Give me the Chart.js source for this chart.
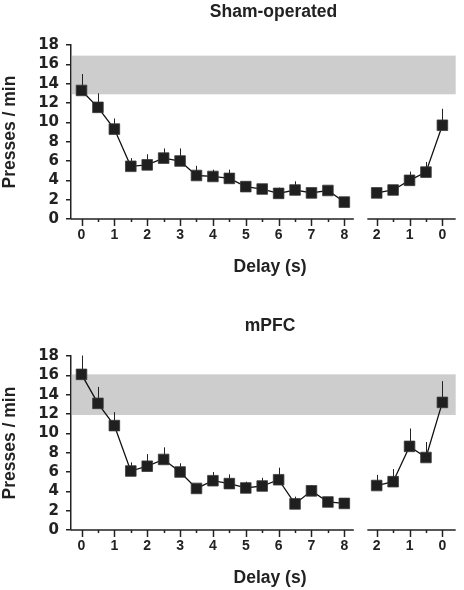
<!DOCTYPE html>
<html>
<head>
<meta charset="utf-8">
<script src="https://cdn.jsdelivr.net/npm/chart.js@4/dist/chart.umd.min.js"></script>
<style>
  html, body { margin: 0; padding: 0; background: #fff; }
  body { width: 464px; height: 590px; position: relative; overflow: hidden; }
  canvas { position: absolute; left: 0; }
  #sham { top: 0; }
  #mpfc { top: 311px; }
</style>
</head>
<body>
<canvas id="sham" width="464" height="279"></canvas>
<canvas id="mpfc" width="464" height="279"></canvas>
<script>
// delays in the training phase (s), then the recovery phase (read right to left)
const delays = [0, 0.5, 1, 1.5, 2, 2.5, 3, 3.5, 4, 4.5, 5, 5.5, 6, 6.5, 7, 7.5, 8];
const recoveryDelays = [2, 1.5, 1, 0.5, 0];

const shamMeans = [13.3, 11.55, 9.3, 5.45, 5.6, 6.3, 6.0, 4.5, 4.4, 4.2, 3.35, 3.1, 2.65, 3.0, 2.7, 2.95, 1.75];
const shamErr = [1.7, 1.45, 1.1, 0.85, 1.1, 1.0, 1.3, 1.0, 0.7, 0.9, 0.4, 0.4, 0.6, 0.9, 0.4, 0.4, 0.3];
const shamRecMeans = [2.7, 3.0, 4.0, 4.85, 9.7];
const shamRecErr = [0.3, 0.4, 0.9, 1.05, 1.7];
const shamBand = [12.9, 16.9];

const mpfcMeans = [16.1, 13.1, 10.8, 6.1, 6.6, 7.3, 6.0, 4.3, 5.1, 4.8, 4.35, 4.55, 5.2, 2.7, 4.05, 2.9, 2.75];
const mpfcErr = [1.95, 1.7, 1.4, 0.9, 1.25, 1.25, 0.9, 0.4, 0.9, 0.95, 0.65, 0.85, 1.25, 0.75, 0.6, 0.3, 0.3];
const mpfcRecMeans = [4.6, 5.0, 8.65, 7.5, 13.2];
const mpfcRecErr = [1.1, 1.3, 1.85, 1.6, 2.2];
const mpfcBand = [11.9, 16.1];

const yTicks = [0, 2, 4, 6, 8, 10, 12, 14, 16, 18];

// recovery segment sits to the right of the main axis, reversed
const REC_ZERO = 10.985;
const recPos = d => REC_ZERO - d;

const tickPositions = delays.concat(recoveryDelays.map(recPos));
const tickLabels = delays.concat(recoveryDelays).map(d => Number.isInteger(d) ? String(d) : '');

const INK = '#222';
const FONT = 'Liberation Sans';

const panelPlugin = {
  id: 'panel',
  beforeDatasetsDraw(chart, args, opts) {
    const { ctx, chartArea: a, scales: { x, y } } = chart;
    ctx.save();
    // control range band
    ctx.fillStyle = '#cdcdcd';
    const top = y.getPixelForValue(opts.band[1]);
    const bot = y.getPixelForValue(opts.band[0]);
    ctx.fillRect(a.left + 1, top, a.right - a.left - 1, bot - top);
    // upper error bars
    ctx.strokeStyle = INK;
    ctx.lineWidth = 1;
    chart.data.datasets.forEach(ds => {
      ds.data.forEach(p => {
        const px = Math.round(x.getPixelForValue(p.x)) + 0.5;
        ctx.beginPath();
        ctx.moveTo(px, y.getPixelForValue(p.y));
        ctx.lineTo(px, y.getPixelForValue(p.y + p.err));
        ctx.stroke();
      });
    });
    ctx.restore();
  },
  afterDraw(chart, args, opts) {
    const { ctx, chartArea: a, scales: { x } } = chart;
    ctx.save();
    ctx.strokeStyle = INK;
    ctx.lineWidth = 1.5;
    // broken x axis
    ctx.beginPath();
    ctx.moveTo(a.left, a.bottom);
    ctx.lineTo(x.getPixelForValue(8.29), a.bottom);
    ctx.moveTo(x.getPixelForValue(8.70), a.bottom);
    ctx.lineTo(a.right, a.bottom);
    ctx.stroke();
    // tick marks, long at labelled positions
    x.ticks.forEach((t, i) => {
      const px = Math.round(x.getPixelForValue(t.value)) + 0.5;
      const len = tickLabels[i] ? 7 : 3;
      ctx.beginPath();
      ctx.moveTo(px, a.bottom);
      ctx.lineTo(px, a.bottom + len);
      ctx.stroke();
    });
    // titles
    ctx.fillStyle = INK;
    ctx.textAlign = 'center';
    ctx.textBaseline = 'alphabetic';
    ctx.font = `bold 17.5px "${FONT}"`;
    ctx.fillText(opts.title, opts.titleX, opts.titleY);
    ctx.fillText('Delay (s)', 270, 271.5);
    ctx.restore();
  }
};

function makeChart(id, means, err, recMeans, recErr, band, title, titleX, titleY) {
  const lineStyle = {
    borderColor: '#111',
    borderWidth: 1.3,
    tension: 0,
    pointStyle: 'rect',
    pointRadius: 7.5,
    pointBackgroundColor: '#1f1f1f',
    pointBorderColor: '#3a3a3a',
    pointBorderWidth: 0.8
  };
  return new Chart(document.getElementById(id), {
    type: 'line',
    data: {
      datasets: [
        { ...lineStyle, data: delays.map((d, i) => ({ x: d, y: means[i], err: err[i] })) },
        { ...lineStyle, data: recoveryDelays.map((d, i) => ({ x: recPos(d), y: recMeans[i], err: recErr[i] })) }
      ]
    },
    options: {
      responsive: false,
      animation: false,
      events: [],
      layout: { padding: { top: 45, right: 4, left: 0, bottom: 0 } },
      plugins: {
        legend: { display: false },
        tooltip: { enabled: false },
        panel: { band, title, titleX, titleY }
      },
      scales: {
        x: {
          type: 'linear',
          min: -0.32,
          max: 11.39,
          afterBuildTicks: s => { s.ticks = tickPositions.map(v => ({ value: v })); },
          afterFit: s => { s.height = 60; },
          grid: { display: false, drawTicks: false },
          border: { display: false },
          ticks: {
            autoSkip: false,
            maxRotation: 0,
            padding: 8,
            color: INK,
            font: { family: FONT, weight: 'bold', size: 14 },
            callback: (v, i) => tickLabels[i]
          }
        },
        y: {
          min: 0,
          max: 18,
          afterBuildTicks: s => { s.ticks = yTicks.map(v => ({ value: v })); },
          afterFit: s => { s.width = 71; },
          grid: { drawOnChartArea: false, tickLength: 5, color: INK, lineWidth: 1.5 },
          border: { color: INK, width: 1.5 },
          ticks: {
            autoSkip: false,
            padding: 7,
            color: INK,
            font: { family: 'DejaVu Sans', weight: 'bold', size: 15 }
          },
          title: {
            display: true,
            text: 'Presses / min',
            color: INK,
            padding: 0,
            font: { family: FONT, weight: 'bold', size: 17.5 }
          }
        }
      }
    },
    plugins: [panelPlugin]
  });
}

makeChart('sham', shamMeans, shamErr, shamRecMeans, shamRecErr, shamBand, 'Sham-operated', 273.5, 17);
makeChart('mpfc', mpfcMeans, mpfcErr, mpfcRecMeans, mpfcRecErr, mpfcBand, 'mPFC', 270, 20);
</script>
</body>
</html>
